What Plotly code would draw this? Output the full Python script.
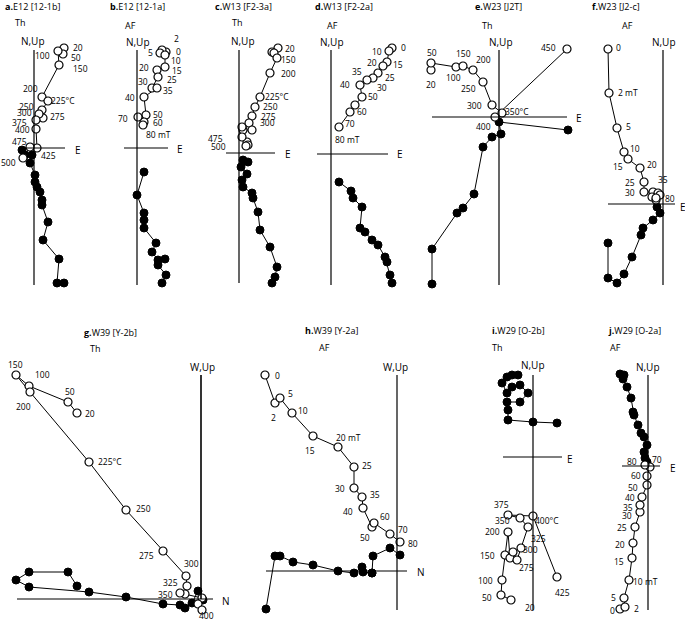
import plotly.graph_objects as go

W, H = 685, 622

# ---------------- data (arbitrary units, origin = axis cross) ----------------
# a. E12 [12-1b]  Th
A_STEPS = ["20", "50", "100", "150", "200", "225", "250", "275", "300", "375", "400", "425", "475", "500"]
A_OPEN_X = [30, 29, 24, 25, 8, 14, 8, 9, 5, 2, 2, 3, -4, -11]
A_OPEN_Y = [100, 94, 97, 83, 51, 47, 38, 30, 34, 28, 19, 0, 1, -10]
A_FILL_X = [30, 23, 25, 9, 14, 8, 8, 6, 3, 1, 1, -4, -2, -9, -12]
A_FILL_Y = [-135, -135, -111, -92, -74, -57, -52, -44, -39, -34, -27, -15, -7, -7, -2]

# b. E12 [12-1a]  AF
B_STEPS = ["0", "2", "5", "10", "15", "20", "25", "30", "35", "40", "50", "60", "70", "80"]
B_OPEN_X = [29, 25, 23, 28, 28, 20, 21, 15, 20, 7, 9, 7, 1, 6]
B_OPEN_Y = [96, 98, 95, 93, 81, 78, 71, 60, 60, 51, 33, 26, 31, 23]
B_FILL_X = [25, 29, 21, 28, 21, 15, 19, 7, 7, 7, 0, 7]
B_FILL_Y = [-135, -127, -117, -111, -112, -104, -95, -80, -72, -65, -47, -24]

# c. W13 [F2-3a]  Th
C_OPEN_X = [39, 33, 35, 38, 31, 21, 16, 13, 10, 13, 4, 3, 8, 9, 3, 7]
C_OPEN_Y = [105, 101, 100, 95, 80, 56, 46, 37, 30, 23, 23, 26, 11, 8, 16, 7]
C_FILL_X = [33, 36, 38, 31, 21, 19, 14, 13, 4, 3, 8, 2, 9, 4]
C_FILL_Y = [-130, -124, -114, -94, -77, -59, -45, -40, -34, -27, -21, -14, -9, -7]

# d. W13 [F2-2a]  AF
D_OPEN_X = [61, 58, 56, 52, 47, 42, 36, 29, 31, 24, 19, 8]
D_OPEN_Y = [106, 103, 92, 88, 81, 76, 74, 69, 57, 49, 42, 27]
D_FILL_X = [61, 59, 56, 54, 47, 41, 34, 29, 31, 22, 20, 8]
D_FILL_Y = [-129, -121, -108, -103, -91, -86, -78, -74, -53, -44, -37, -28]

# e. W23 [J2T]  Th
E_STEPS = ["20", "50", "100", "150", "200", "250", "300", "350", "400", "450"]
E_OPEN_X = [-68, -68, -43, -36, -26, -16, -7, 3, -4, 68]
E_OPEN_Y = [47, 54, 50, 51, 47, 35, 12, 4, 0, 68]
E_FILL_X = [-67, -67, -42, -36, -25, -16, -7, 2, 0, 69]
E_FILL_Y = [-167, -132, -96, -91, -77, -30, -20, -17, -5, -13]

# f. W23 [J2-c]  AF
F_OPEN_X = [-55, -54, -46, -39, -35, -23, -19, -19, -10, -5, -3, -11, -7, -7]
F_OPEN_Y = [155, 111, 76, 52, 45, 36, 22, 12, 12, 11, 9, 7, 4, 6]
F_FILL_X = [-55, -55, -46, -39, -31, -22, -20, -10, -3, -6]
F_FILL_Y = [-39, -74, -79, -70, -53, -31, -24, -16, -9, -3]

# g. W39 [Y-2b]  Th   (horizontal = N, vertical = W,Up)
G_OPEN_X = [-124, -133, -172, -185, -171, -112, -75, -38, -15, -14, -16, -21, 1, -3, 1]
G_OPEN_Y = [186, 197, 213, 224, 207, 137, 89, 48, 23, 13, 5, 6, 1, -5, -11]
G_FILL_X = [-124, -133, -172, -185, -172, -112, -75, -38, -21, -16, -9, -3, 2]
G_FILL_Y = [13, 27, 27, 19, 12, 7, 2, -5, -6, -9, -4, 8, -1]

# h. W39 [Y-2a]  AF
H_OPEN_X = [-132, -122, -117, -105, -84, -59, -43, -43, -35, -34, -25, -23, -7, 3]
H_OPEN_Y = [196, 168, 173, 158, 135, 124, 104, 83, 74, 63, 44, 48, 37, 29]
H_FILL_X = [-131, -122, -117, -104, -84, -59, -43, -35, -34, -25, -25, -24, -7, 3]
H_FILL_Y = [-38, 15, 15, 9, 6, 0, -2, 4, -1, -2, -2, 15, 23, 16]

# i. W29 [O-2b]  Th
I_OPEN_X = [-22, -32, -31, -28, -25, -23, -20, -16, -12, -5, -13, -25, 0, 24]
I_OPEN_Y = [-143, -138, -123, -98, -75, -101, -95, -103, -91, -70, -61, -58, -59, -120]
I_FILL_X = [-15, -21, -26, -31, -26, -21, -13, -5, -13, -26, -25, -25, 0, 24]
I_FILL_Y = [82, 82, 80, 74, 64, 70, 72, 64, 55, 55, 47, 37, 35, 34]

# j. W29 [O-2a]  AF
J_OPEN_X = [-28, -23, -24, -19, -16, -15, -13, -8, -8, -6, -1, -1, 2, -3]
J_OPEN_Y = [-143, -141, -132, -114, -92, -77, -61, -46, -39, -31, -19, -10, -1, 1]
J_FILL_X = [-28, -24, -25, -21, -17, -15, -14, -10, -7, -4, -1, -4, -3, -1]
J_FILL_Y = [92, 91, 87, 79, 68, 54, 51, 41, 33, 29, 21, 14, 8, 4]

# ---------------- panel layout ----------------
PANELS = [
    dict(key="a", title="E12 [12-1b]", mode="Th", box=(0, 30, 105, 300), org=(34, 148),
         tpos=(3, 7), mpos=(13, 23), vax=(98, -137), hax=(-9, 31), vlab="N,Up", hlab="E",
         vlab_xy=(-1, 107), hlab_xy=(39, -2),
         ox=A_OPEN_X, oy=A_OPEN_Y, fx=A_FILL_X, fy=A_FILL_Y,
         labels=[("20", 44, 100), ("50", 42, 90), ("100", 8, 92), ("150", 46, 79), ("200", -4, 59),
                 ("225°C", 29, 47), ("250", -8, 41), ("300", -10, 35), ("275", 23, 31), ("375", -15, 25),
                 ("400", -12, 18), ("475", -15, 6), ("425", 14, -8), ("500", -26, -15)]),
    dict(key="b", title="E12 [12-1a]", mode="AF", box=(105, 30, 210, 300), org=(137, 148),
         tpos=(108, 7), mpos=(123, 25), vax=(98, -137), hax=(-13, 31), vlab="N,Up", hlab="E",
         vlab_xy=(1, 106), hlab_xy=(38, -1),
         ox=B_OPEN_X, oy=B_OPEN_Y, fx=B_FILL_X, fy=B_FILL_Y,
         labels=[("2", 39, 109), ("0", 41, 96), ("5", 13, 95), ("10", 39, 87), ("15", 40, 77), ("20", 7, 80),
                 ("25", 35, 68), ("30", 6, 66), ("35", 31, 57), ("40", -7, 50), ("50", 21, 33), ("60", 21, 25),
                 ("70", -14, 29), ("80 mT", 21, 13)]),
    dict(key="c", title="W13 [F2-3a]", mode="Th", box=(210, 30, 310, 300), org=(239, 153),
         tpos=(213, 7), mpos=(230, 23), vax=(103, -130), hax=(-13, 36), vlab="N,Up", hlab="E",
         vlab_xy=(4, 112), hlab_xy=(44, -1),
         ox=C_OPEN_X, oy=C_OPEN_Y, fx=C_FILL_X, fy=C_FILL_Y,
         labels=[("20", 51, 104), ("150", 49, 93), ("200", 49, 79), ("225°C", 38, 56), ("250", 31, 46),
                 ("275", 29, 36), ("300", 28, 30), ("475", -24, 14), ("500", -21, 6)]),
    dict(key="d", title="W13 [F2-2a]", mode="AF", box=(310, 30, 415, 300), org=(331, 154),
         tpos=(313, 7), mpos=(325, 25), vax=(104, -131), hax=(-14, 57), vlab="N,Up", hlab="E",
         vlab_xy=(1, 112), hlab_xy=(64, 0),
         ox=D_OPEN_X, oy=D_OPEN_Y, fx=D_FILL_X, fy=D_FILL_Y,
         labels=[("0", 72, 106), ("10", 46, 102), ("15", 67, 89), ("20", 41, 91), ("35", 26, 82), ("25", 59, 76),
                 ("40", 14, 69), ("30", 51, 66), ("50", 42, 57), ("60", 31, 42), ("70", 19, 30), ("80 mT", 16, 14)]),
    dict(key="e", title="W23 [J2T]", mode="Th", box=(415, 30, 585, 300), org=(499, 117),
         tpos=(473, 7), mpos=(480, 25), vax=(67, -168), hax=(-67, 68), vlab="N,Up", hlab="E",
         vlab_xy=(2, 75), hlab_xy=(75, -1),
         ox=E_OPEN_X, oy=E_OPEN_Y, fx=E_FILL_X, fy=E_FILL_Y,
         labels=[("50", -67, 64), ("150", -36, 63), ("200", -16, 57), ("100", -46, 39), ("20", -68, 32),
                 ("250", -31, 28), ("300", -25, 11), ("350°C", 18, 5), ("400", -16, -10), ("450", 49, 69)]),
    dict(key="f", title="W23 [J2-c]", mode="AF", box=(585, 30, 685, 300), org=(663, 204),
         tpos=(590, 7), mpos=(620, 25), vax=(154, -81), hax=(-55, 12), vlab="N,Up", hlab="E",
         vlab_xy=(1, 162), hlab_xy=(15, -3),
         ox=F_OPEN_X, oy=F_OPEN_Y, fx=F_FILL_X, fy=F_FILL_Y,
         labels=[("0", -45, 156), ("2 mT", -35, 111), ("5", -35, 77), ("10", -28, 55), ("15", -45, 37),
                 ("20", -11, 39), ("25", -33, 21), ("35", 0, 24), ("30", -33, 11), ("80", 7, 5)]),
    dict(key="g", title="W39 [Y-2b]", mode="Th", box=(0, 355, 230, 622), org=(201, 599),
         tpos=(82, 332), mpos=(88, 348), vax=(224, 0), hax=(-184, 12), vlab="W,Up", hlab="N",
         vlab_xy=(1, 232), hlab_xy=(19, -2),
         ox=G_OPEN_X, oy=G_OPEN_Y, fx=G_FILL_X, fy=G_FILL_Y,
         labels=[("150", -186, 235), ("100", -159, 225), ("50", -131, 208), ("200", -178, 193), ("20", -111, 186),
                 ("225°C", -91, 138), ("250", -58, 91), ("275", -55, 44), ("300", -10, 36), ("325", -31, 17),
                 ("350", -36, 5), ("400", 5, -16)]),
    dict(key="h", title="W39 [Y-2a]", mode="AF", box=(230, 355, 440, 622), org=(397, 571),
         tpos=(303, 330), mpos=(317, 347), vax=(196, -39), hax=(-131, 10), vlab="W,Up", hlab="N",
         vlab_xy=(-2, 204), hlab_xy=(18, -1),
         ox=H_OPEN_X, oy=H_OPEN_Y, fx=H_FILL_X, fy=H_FILL_Y,
         labels=[("0", -120, 196), ("5", -107, 178), ("2", -124, 154), ("10", -94, 161), ("20 mT", -49, 134),
                 ("15", -87, 121), ("25", -30, 106), ("30", -57, 83), ("35", -22, 77), ("40", -49, 60),
                 ("60", -12, 55), ("70", 6, 42), ("50", -32, 34), ("80", 16, 28)]),
    dict(key="i", title="W29 [O-2b]", mode="Th", box=(440, 355, 570, 622), org=(533, 457),
         tpos=(490, 330), mpos=(490, 347), vax=(82, -153), hax=(-30, 29), vlab="N,Up", hlab="E",
         vlab_xy=(0, 92), hlab_xy=(32, -2),
         ox=I_OPEN_X, oy=I_OPEN_Y, fx=I_FILL_X, fy=I_FILL_Y,
         labels=[("375", -32, -47), ("400°C", 14, -63), ("350", -31, -63), ("200", -41, -74), ("325", 5, -81),
                 ("300", -3, -92), ("150", -46, -98), ("275", -7, -110), ("100", -48, -123), ("425", 29, -135),
                 ("50", -46, -140), ("20", -3, -150)]),
    dict(key="j", title="W29 [O-2a]", mode="AF", box=(570, 355, 685, 622), org=(648, 466),
         tpos=(606, 330), mpos=(608, 347), vax=(91, -144), hax=(-26, 12), vlab="N,Up", hlab="E",
         vlab_xy=(0, 99), hlab_xy=(20, -2),
         ox=J_OPEN_X, oy=J_OPEN_Y, fx=J_FILL_X, fy=J_FILL_Y,
         labels=[("80", -16, 5), ("70", 9, 7), ("60", -12, -9), ("50", -15, -21), ("40", -18, -31),
                 ("35", -20, -41), ("30", -21, -49), ("25", -26, -61), ("20", -28, -78), ("15", -29, -95),
                 ("10 mT", -3, -115), ("5", -35, -131), ("0", -36, -144), ("2", -12, -142)]),
]

FONT = "Open Sans"
fig = go.Figure()
shapes, annotations = [], []
layout_axes = {}

for i, p in enumerate(PANELS, start=1):
    xa, ya = ("x" if i == 1 else f"x{i}"), ("y" if i == 1 else f"y{i}")
    x0, y0, x1, y1 = p["box"]
    ox, oy = p["org"]
    layout_axes["xaxis" if i == 1 else f"xaxis{i}"] = dict(
        domain=[x0 / W, x1 / W], range=[x0 - ox, x1 - ox], anchor=ya,
        visible=False, fixedrange=True)
    layout_axes["yaxis" if i == 1 else f"yaxis{i}"] = dict(
        domain=[1 - y1 / H, 1 - y0 / H], range=[oy - y1, oy - y0], anchor=xa,
        visible=False, fixedrange=True)

    # axis cross
    shapes.append(dict(type="line", xref=xa, yref=ya, x0=0, x1=0, y0=p["vax"][0], y1=p["vax"][1],
                       line=dict(color="black", width=1.6 if p["key"] == "g" else 1.2)))
    shapes.append(dict(type="line", xref=xa, yref=ya, x0=p["hax"][0], x1=p["hax"][1], y0=0, y1=0,
                       line=dict(color="black", width=1.2)))

    # filled (horizontal projection) and open (vertical projection)
    fig.add_trace(go.Scatter(x=p["fx"], y=p["fy"], xaxis=xa, yaxis=ya, mode="lines+markers",
                             line=dict(color="black", width=1),
                             marker=dict(size=8, color="black", line=dict(color="black", width=1)),
                             showlegend=False, hoverinfo="skip", cliponaxis=False))
    fig.add_trace(go.Scatter(x=p["ox"], y=p["oy"], xaxis=xa, yaxis=ya, mode="lines+markers",
                             line=dict(color="black", width=1),
                             marker=dict(size=8, color="white", line=dict(color="black", width=1.2)),
                             showlegend=False, hoverinfo="skip", cliponaxis=False))

    for txt, lx, ly in p["labels"]:
        annotations.append(dict(text=txt, x=lx, y=ly, xref=xa, yref=ya, showarrow=False,
                                font=dict(family=FONT, size=8.5, color="black")))
    annotations.append(dict(text=p["vlab"], x=p["vlab_xy"][0], y=p["vlab_xy"][1], xref=xa, yref=ya,
                            showarrow=False, font=dict(family=FONT, size=10, color="black")))
    annotations.append(dict(text=p["hlab"], x=p["hlab_xy"][0], y=p["hlab_xy"][1], xref=xa, yref=ya,
                            showarrow=False, xanchor="left", font=dict(family=FONT, size=10, color="black")))
    tx, ty = p["tpos"]
    annotations.append(dict(text=f"<b>{p['key']}.</b>{p['title']}", x=tx / W, y=1 - ty / H,
                            xref="paper", yref="paper", xanchor="left", yanchor="middle", showarrow=False,
                            font=dict(family=FONT, size=9, color="black")))
    mx, my = p["mpos"]
    annotations.append(dict(text=p["mode"], x=mx / W, y=1 - my / H, xref="paper", yref="paper",
                            xanchor="left", yanchor="middle", showarrow=False,
                            font=dict(family=FONT, size=9, color="black")))

fig.update_layout(width=W, height=H, margin=dict(l=0, r=0, t=0, b=0),
                  paper_bgcolor="white", plot_bgcolor="rgba(0,0,0,0)",
                  shapes=shapes, annotations=annotations, **layout_axes)
fig.write_html("out.html", config={"displayModeBar": False, "staticPlot": True},
               post_script="document.body.style.margin='0px';document.body.style.overflow='hidden';")
